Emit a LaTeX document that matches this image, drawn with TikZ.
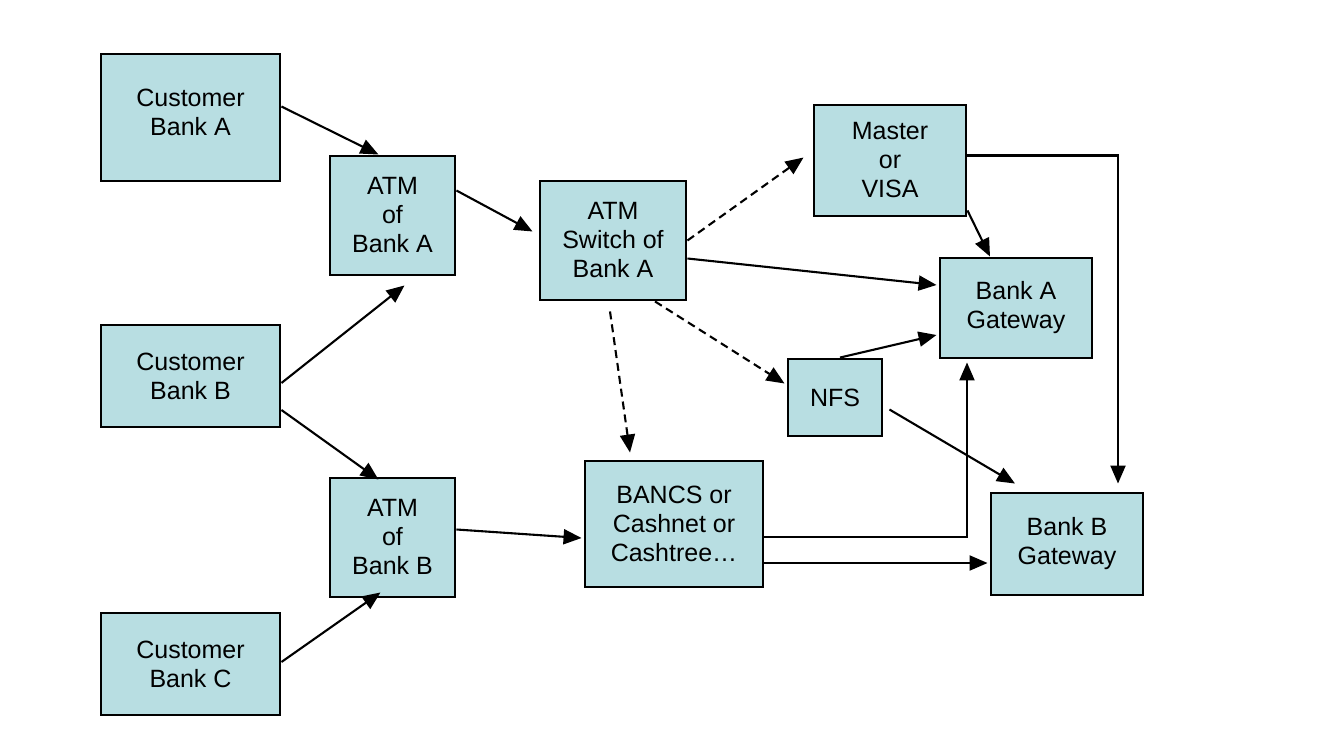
\documentclass[tikz,border=0pt]{standalone}
\usepackage{fontspec}
\setmainfont{Liberation Sans}
\usetikzlibrary{arrows.meta}
\definecolor{boxfill}{RGB}{184,222,226}

\begin{document}
\begin{tikzpicture}[x=1pt,y=-1pt,
   blk/.style={fill=boxfill,draw=black,line width=2.9pt,align=center,
     inner sep=0pt,font=\fontsize{25}{29}\selectfont},
   ar/.style={-{Triangle[length=18pt,width=15pt]},line width=2.1pt},
   da/.style={ar,dash pattern=on 8pt off 5pt}]
   \useasboundingbox (0,0) rectangle (1322,749);
   % boxes
   \node[blk,minimum width=179pt,minimum height=127pt,text depth=10pt] (cba) at (190.5,117.5) {Customer\\Bank A};
   \node[blk,minimum width=179pt,minimum height=102pt] (cbb) at (190.5,376) {Customer\\Bank B};
   \node[blk,minimum width=179pt,minimum height=102pt] (cbc) at (190.5,664) {Customer\\Bank C};
   \node[blk,minimum width=125pt,minimum height=119pt] (atma) at (392.5,215.5) {ATM\\of\\Bank A};
   \node[blk,minimum width=125pt,minimum height=119pt] (atmb) at (392.5,537.5) {ATM\\of\\Bank B};
   \node[blk,minimum width=146pt,minimum height=119pt] (sw) at (613,240.5) {ATM\\Switch of\\Bank A};
   \node[blk,minimum width=178pt,minimum height=126pt] (ban) at (674,524) {BANCS or\\Cashnet or\\Cashtree\ldots};
   \node[blk,minimum width=152pt,minimum height=111pt] (mv) at (890,160.5) {Master\\or\\VISA};
   \node[blk,minimum width=94pt,minimum height=77pt] (nfs) at (835,397.5) {NFS};
   \node[blk,minimum width=152pt,minimum height=100pt] (gwa) at (1016,308) {Bank A\\Gateway};
   \node[blk,minimum width=152pt,minimum height=102pt] (gwb) at (1067,544) {Bank B\\Gateway};
   % links
   \draw[ar] ([yshift=11pt]cba.east) -- ([xshift=-14pt]atma.north);
   \draw[ar] ([yshift=25pt]atma.east) -- ([xshift=-6pt,yshift=9pt]sw.west);
   \draw[ar] ([yshift=-7pt]cbb.east) -- ([xshift=12pt,yshift=-9pt]atma.south);
   \draw[ar] ([yshift=-34pt]cbb.east) -- ([xshift=-14pt,yshift=-3pt]atmb.north);
   \draw[ar] ([yshift=2pt]cbc.east) -- ([xshift=-12pt,yshift=6pt]atmb.south);
   \draw[ar] ([yshift=8pt]atmb.east) -- ([xshift=-2pt,yshift=-14pt]ban.west);
   \draw[da] (sw.east) -- ([xshift=-9pt,yshift=3pt]mv.west);
   \draw[ar] ([yshift=-18pt]sw.east) -- ([xshift=-2pt,yshift=23pt]gwa.west);
   \draw[da] ([xshift=42pt]sw.south) -- ([xshift=-2pt,yshift=14pt]nfs.west);
   \draw[da] ([xshift=-3pt,yshift=-10pt]sw.south) -- ([xshift=-44pt,yshift=7pt]ban.north);
   \draw[ar] ([yshift=7pt]mv.south east) -- ([xshift=-26pt]gwa.north);
   \draw[ar] ([yshift=5pt]mv.east) -| ([xshift=51pt,yshift=8pt]gwb.north);
   \draw[ar] ([xshift=5pt]nfs.north) -- ([xshift=-2pt,yshift=-27pt]gwa.west);
   \draw[ar] ([xshift=6pt,yshift=-12pt]nfs.east) -- ([xshift=-52pt,yshift=8pt]gwb.north);
   \draw[ar] ([yshift=-13pt]ban.east) -| ([xshift=-49pt,yshift=-3pt]gwa.south);
   \draw[ar] ([yshift=-39pt]ban.east) -- ([xshift=-2pt,yshift=-19pt]gwb.west);
\end{tikzpicture}
\end{document}
